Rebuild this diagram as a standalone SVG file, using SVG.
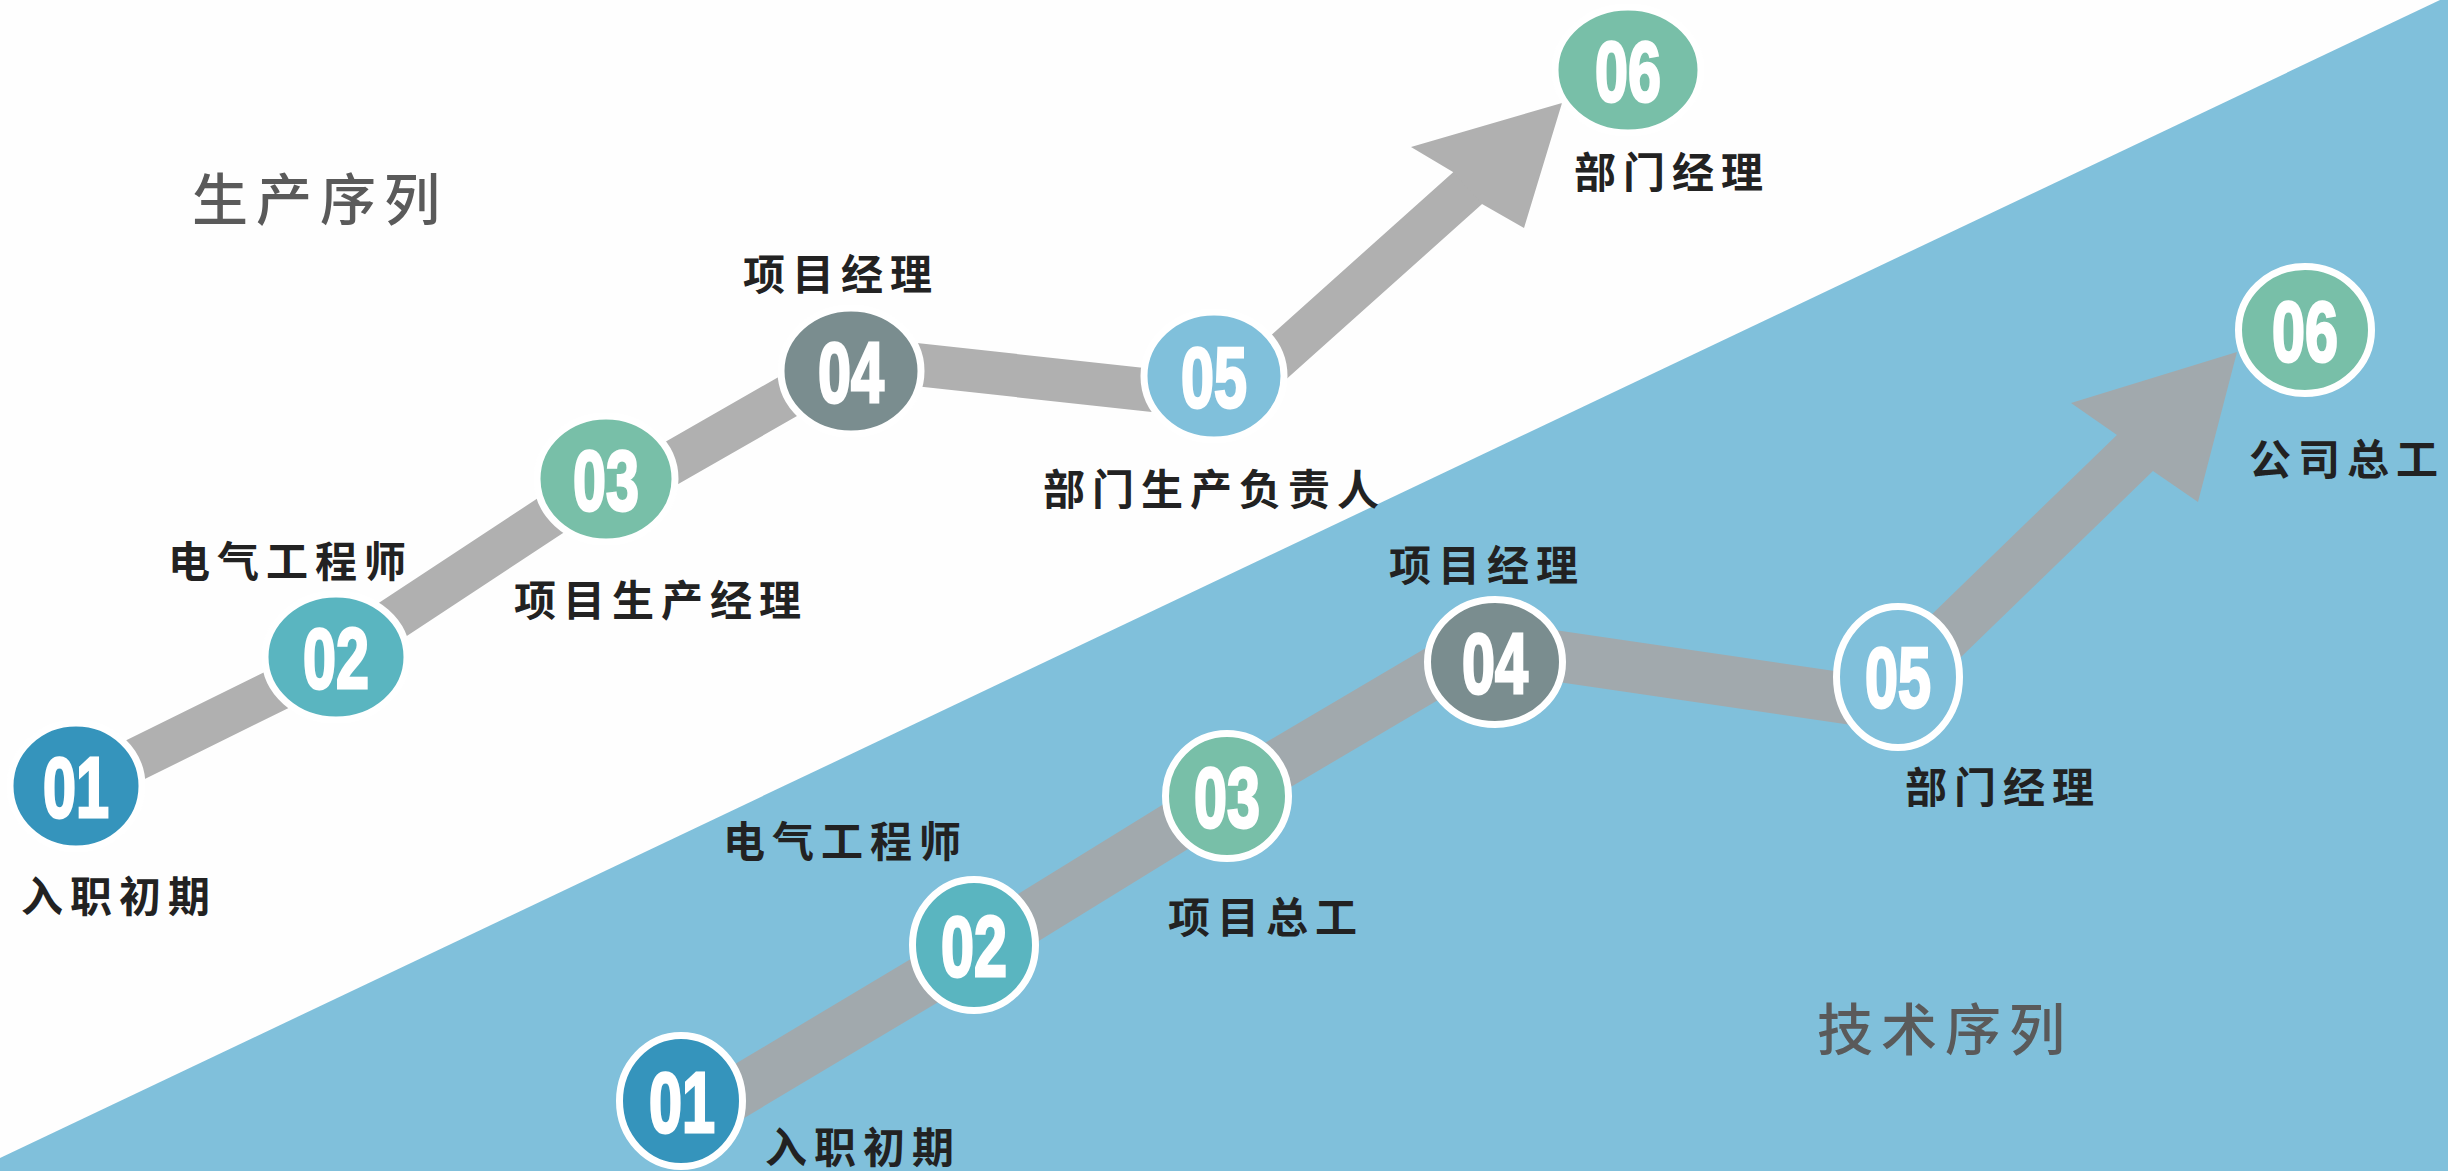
<svg xmlns="http://www.w3.org/2000/svg" width="2448" height="1171" viewBox="0 0 2448 1171">
<defs>
<style>
.bg{fill:#FEFEFE}
.blue{fill:#80C0DB}
.title{font-family:'Noto Sans CJK SC','Noto Sans',sans-serif;font-size:56px;letter-spacing:8px;fill:#5A5A5A;font-weight:500}
.lbl{font-family:'Noto Sans CJK SC','Noto Sans',sans-serif;font-size:42px;letter-spacing:7px;fill:#222222;font-weight:700}
.num{font-family:'Liberation Sans',Arial,sans-serif;font-size:86px;font-weight:700;fill:#FFFFFF;stroke:#FFFFFF;stroke-width:3;text-anchor:middle}
.ring{stroke:#FFFFFF;stroke-width:7}
.bandTop{fill:none;stroke:#B0B0B0;stroke-width:43;stroke-linejoin:miter;stroke-linecap:butt}
.bandBot{fill:none;stroke:#A1A9AD;stroke-width:51;stroke-linejoin:miter;stroke-linecap:butt}
.c1{fill:#3594BC}
.c2{fill:#5AB5C0}
.c3{fill:#78BFA8}
.c4{fill:#7A8D8F}
.c5{fill:#80C0DB}
.c6{fill:#78BFA8}
</style>
</defs>
<rect class="bg" x="0" y="0" width="2448" height="1171"/>
<polygon class="blue" points="0,1158 2440,0 2448,0 2448,1171 0,1171"/>
<text class="title" x="192" y="220">生产序列</text>
<text class="title" x="1817" y="1050">技术序列</text>

<g id="connectors">
  <polyline class="bandTop" points="76,789 313,672 606,479"/>
  <polyline class="bandTop" points="606,500.6 855,358 1232,399 1470,186"/>
  <polygon fill="#B0B0B0" points="1453,172 1411,147 1562,103 1524,228 1482,204"/>
  <polyline class="bandBot" points="681,1126 974,951 1227,795 1481,645 1877,703 2137,451"/>
  <polygon fill="#A1A9AD" points="2117,435 2071,403 2237,352 2198,502 2153,471"/>
</g>

<g id="top-01">
  <ellipse class="c1 ring" cx="76" cy="786" rx="66" ry="63"/>
  <text class="num" x="76" y="817" textLength="66" lengthAdjust="spacingAndGlyphs">01</text>
  <text class="lbl" x="21" y="912">入职初期</text>
</g>
<g id="top-02">
  <ellipse class="c2 ring" cx="336" cy="657" rx="71" ry="63"/>
  <text class="num" x="336" y="688" textLength="66" lengthAdjust="spacingAndGlyphs">02</text>
  <text class="lbl" x="168" y="577">电气工程师</text>
</g>
<g id="top-03">
  <ellipse class="c3 ring" cx="606" cy="479" rx="69" ry="63"/>
  <text class="num" x="606" y="510" textLength="66" lengthAdjust="spacingAndGlyphs">03</text>
  <text class="lbl" x="514" y="616">项目生产经理</text>
</g>
<g id="top-04">
  <ellipse class="c4 ring" cx="851" cy="371" rx="70" ry="63"/>
  <text class="num" x="851" y="402" textLength="66" lengthAdjust="spacingAndGlyphs">04</text>
  <text class="lbl" x="743" y="290">项目经理</text>
</g>
<g id="top-05">
  <ellipse class="c5 ring" cx="1214" cy="376" rx="70" ry="64"/>
  <text class="num" x="1214" y="407" textLength="66" lengthAdjust="spacingAndGlyphs">05</text>
  <text class="lbl" x="1043" y="505">部门生产负责人</text>
</g>
<g id="top-06">
  <ellipse class="c6 ring" cx="1628" cy="70" rx="73" ry="63"/>
  <text class="num" x="1628" y="101" textLength="66" lengthAdjust="spacingAndGlyphs">06</text>
  <text class="lbl" x="1574" y="188">部门经理</text>
</g>

<g id="bot-01">
  <ellipse class="c1 ring" cx="681" cy="1101" rx="61.5" ry="65.5"/>
  <text class="num" x="682" y="1132" textLength="66" lengthAdjust="spacingAndGlyphs">01</text>
  <text class="lbl" x="765" y="1163">入职初期</text>
</g>
<g id="bot-02">
  <ellipse class="c2 ring" cx="974" cy="945" rx="61.5" ry="65.5"/>
  <text class="num" x="974" y="976" textLength="66" lengthAdjust="spacingAndGlyphs">02</text>
  <text class="lbl" x="723" y="857">电气工程师</text>
</g>
<g id="bot-03">
  <ellipse class="c3 ring" cx="1227" cy="796" rx="61.5" ry="62.5"/>
  <text class="num" x="1227" y="827" textLength="66" lengthAdjust="spacingAndGlyphs">03</text>
  <text class="lbl" x="1168" y="933">项目总工</text>
</g>
<g id="bot-04">
  <ellipse class="c4 ring" cx="1495" cy="662" rx="67.5" ry="62.5"/>
  <text class="num" x="1495" y="693" textLength="66" lengthAdjust="spacingAndGlyphs">04</text>
  <text class="lbl" x="1389" y="581">项目经理</text>
</g>
<g id="bot-05">
  <ellipse class="c5 ring" cx="1898" cy="677" rx="61.5" ry="70.5"/>
  <text class="num" x="1898" y="707" textLength="66" lengthAdjust="spacingAndGlyphs">05</text>
  <text class="lbl" x="1905" y="803">部门经理</text>
</g>
<g id="bot-06">
  <ellipse class="c6 ring" cx="2305" cy="330" rx="66.5" ry="63.5"/>
  <text class="num" x="2305" y="361" textLength="66" lengthAdjust="spacingAndGlyphs">06</text>
  <text class="lbl" x="2249" y="475">公司总工</text>
</g>
</svg>
